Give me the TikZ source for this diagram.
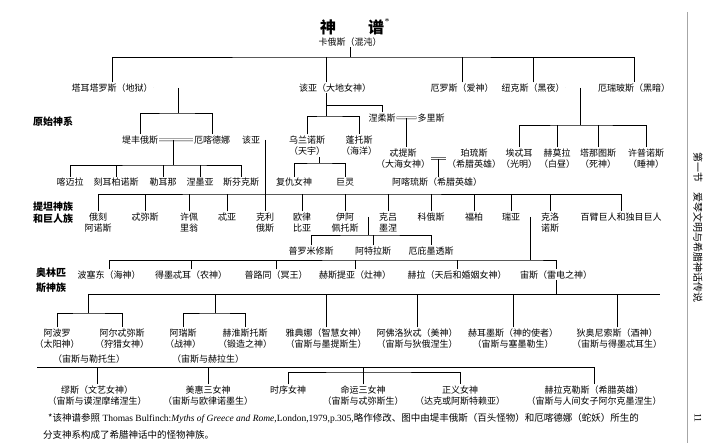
\documentclass[tikz,border=0pt]{standalone}
\usepackage{fontspec}
\setmainfont{Liberation Serif}
\newfontfamily\cjk{Noto Sans CJK SC}
\usepackage{tikz}
\usetikzlibrary{calc}

\tikzset{
    god/.style={anchor=north, inner sep=1pt, align=center, font=\cjk\fontsize{9}{11.5}\selectfont},
    tribe/.style={align=center, inner sep=0pt, font=\cjk\bfseries\fontsize{10}{12}\selectfont},
    wed/.style={double, double distance=1.5pt, line width=0.55pt},
    kin/.style={line width=0.75pt},
}

\begin{document}
\begin{tikzpicture}[x=1pt,y=-1pt]
    \useasboundingbox (0,0) rectangle (720,443);

    % title
    \node[inner sep=0pt, font=\cjk\bfseries\fontsize{16}{16}\selectfont] (title) at (352,27) {神\hspace{2em}谱};
    \node[inner sep=0pt, font=\fontsize{9}{9}\selectfont] (star) at (387,22) {*};

    % groups
    \node[tribe] (primal) at (53,122) {原始神系};
    \node[tribe] (titanlbl) at (53,213) {提坦神族\\和巨人族};
    \node[tribe] (olymplbl) at (51,280) {奥林匹\\[3pt]斯神族};

    % primal gods
    \node[god] (kaos) at (350,36.5) {卡俄斯（混沌）};
    \node[god] (tartarus) at (112,82.5) {塔耳塔罗斯（地狱）};
    \node[god] (gaia) at (335,82.5) {该亚（大地女神）};
    \node[god] (eros) at (462,82.5) {厄罗斯（爱神）};
    \node[god] (nyx) at (533,82.5) {纽克斯（黑夜）};
    \node[god] (erebus) at (634,82.5) {厄瑞玻斯（黑暗）};

    \node[god] (nereus) at (382,112.5) {涅柔斯};
    \node[god] (doris) at (431,112.5) {多里斯};

    \node[god] (typhon) at (140,134.5) {堤丰俄斯};
    \node[god] (echidna) at (212,134.5) {厄喀德娜};
    \node[god] (gaiaB) at (251,134.5) {该亚};
    \node[god] (ouranos) at (307,134.5) {乌兰诺斯\\（天宇）};
    \node[god] (pontus) at (359,134.5) {蓬托斯\\（海洋）};

    \node[god] (thetis) at (403,147.5) {忒提斯\\（大海女神）};
    \node[god] (peleus) at (474,147.5) {珀琉斯\\（希腊英雄）};
    \node[god] (aether) at (519,147.5) {埃忒耳\\（光明）};
    \node[god] (hemera) at (557,147.5) {赫莫拉\\（白昼）};
    \node[god] (thanatos) at (598,147.5) {塔那图斯\\（死神）};
    \node[god] (hypnos) at (646,147.5) {许普诺斯\\（睡神）};

    \node[god] (chimaera) at (70,177) {喀迈拉};
    \node[god] (cerberus) at (116,177) {刻耳柏诺斯};
    \node[god] (hydra) at (163,177) {勒耳那};
    \node[god] (nemea) at (200,177) {涅墨亚};
    \node[god] (sphinx) at (241,177) {斯芬克斯};
    \node[god] (erinyes) at (294,177) {复仇女神};
    \node[god] (giants) at (345,177) {巨灵};
    \node[god] (achilles) at (437,177) {阿喀琉斯（希腊英雄）};

    % titans
    \node[god] (oceanus) at (98,211.5) {俄刻\\阿诺斯};
    \node[god] (themis) at (145,211.5) {忒弥斯};
    \node[god] (hyperion) at (189,211.5) {许佩\\里翁};
    \node[god] (theia) at (227,211.5) {忒亚};
    \node[god] (crius) at (265,211.5) {克利\\俄斯};
    \node[god] (eurybia) at (302,211.5) {欧律\\比亚};
    \node[god] (iapetus) at (345,211.5) {伊阿\\佩托斯};
    \node[god] (clymene) at (388,211.5) {克吕\\墨涅};
    \node[god] (coeus) at (431,211.5) {科俄斯};
    \node[god] (phoebe) at (474,211.5) {福柏};
    \node[god] (rhea) at (511,211.5) {瑞亚};
    \node[god] (cronus) at (550,211.5) {克洛\\诺斯};
    \node[god] (hecaton) at (621,211.5) {百臂巨人和独目巨人};

    \node[god] (prometheus) at (311,245.5) {普罗米修斯};
    \node[god] (atlas) at (373,245.5) {阿特拉斯};
    \node[god] (epimetheus) at (431,245.5) {厄庇墨透斯};

    % olympians
    \node[god] (poseidon) at (109,269.5) {波塞东（海神）};
    \node[god] (demeter) at (191,269.5) {得墨忒耳（农神）};
    \node[god] (hades) at (276,269.5) {普路同（冥王）};
    \node[god] (hestia) at (355,269.5) {赫斯提亚（灶神）};
    \node[god] (hera) at (457,269.5) {赫拉（天后和婚姻女神）};
    \node[god] (zeus) at (556,269.5) {宙斯（雷电之神）};

    \node[god] (apollo) at (57,327.5) {阿波罗\\（太阳神）};
    \node[god] (artemis) at (122,327.5) {阿尔忒弥斯\\（狩猎女神）};
    \node[god] (ares) at (183,327.5) {阿瑞斯\\（战神）};
    \node[god] (hephaestus) at (245,327.5) {赫淮斯托斯\\（锻造之神）};
    \node[god] (athena) at (326,327.5) {雅典娜（智慧女神）\\（宙斯与墨提斯生）};
    \node[god] (aphrodite) at (417,327.5) {阿佛洛狄忒（美神）\\（宙斯与狄俄涅生）};
    \node[god] (hermes) at (513,327.5) {赫耳墨斯（神的使者）\\（宙斯与塞墨勒生）};
    \node[god] (dionysus) at (617,327.5) {狄奥尼索斯（酒神）\\（宙斯与得墨忒耳生）};
    \node[god] (letoborn) at (89,353.5) {（宙斯与勒托生）};
    \node[god] (heraborn) at (208,353.5) {（宙斯与赫拉生）};

    \node[god] (muses) at (97,384.5) {缪斯（文艺女神）\\（宙斯与谟涅摩绪涅生）};
    \node[god] (charites) at (208,384.5) {美惠三女神\\（宙斯与欧律诺墨生）};
    \node[god] (horae) at (288,384.5) {时序女神};
    \node[god] (moirai) at (363,384.5) {命运三女神\\（宙斯与忒弥斯生）};
    \node[god] (dike) at (460,384.5) {正义女神\\（达克或阿斯特赖亚）};
    \node[god] (hercules) at (594,384.5) {赫拉克勒斯（希腊英雄）\\（宙斯与人间女子阿尔克墨涅生）};

    % kaos
    \coordinate (k1) at (350,57);
    \draw[kin] (kaos.south) -- (k1);
    \draw[kin] (tartarus.north) |- (k1) -| (erebus.north);
    \foreach \n in {eros,nyx} \draw[kin] (\n.north) -- (\n.north |- k1);
    \draw[kin] ([xshift=-9pt]gaia.north) -- ([xshift=-9pt]gaia.north |- k1);

    % tartarus + gaia
    \draw[wed] (tartarus.east) -- (gaia.west);
    \coordinate (tg) at (tartarus.east -| 178,0);
    \coordinate (tgb) at (178,113);
    \draw[kin] (tg) -- (tgb);
    \draw[kin] (typhon.north) |- (tgb) -| (echidna.north);

    % typhon + echidna
    \draw[wed] (typhon.east) -- (echidna.west);
    \coordinate (te) at (typhon.east -| 173,0);
    \coordinate (teb) at (173,165);
    \draw[kin] (te) -- (teb);
    \draw[kin] (chimaera.north) |- (teb) -| (sphinx.north);
    \foreach \n in {cerberus,hydra,nemea} \draw[kin] (\n.north) -- (\n.north |- teb);

    % gaia alone
    \coordinate (g0) at ([xshift=-9pt]gaia.south);
    \coordinate (g1) at (g0 |- 0,105);
    \coordinate (g2) at (g0 |- 0,116);
    \draw[kin] (g0) -- (g2);
    \draw[kin] (ouranos.north) |- (g2) -| (pontus.north);
    \draw[kin] (g1) -| (nereus.north);

    % nereus + doris
    \draw[wed] (nereus.east) -- (doris.west);
    \coordinate (nd) at (nereus.east -| 406,0);
    \draw[kin] (nd) -- (nd |- thetis.north);

    % thetis + peleus
    \draw[wed] (thetis.east) -- (peleus.west);
    \coordinate (tp) at ($(thetis.east)!0.5!(peleus.west)$);
    \draw[kin] (tp) -- (tp |- achilles.north);

    % nyx + erebus
    \draw[wed] (nyx.east) -- (erebus.west);
    \coordinate (ne) at (nyx.east -| 580,0);
    \coordinate (neb) at (580,125);
    \draw[kin] (ne) -- (neb);
    \draw[kin] (aether.north) |- (neb) -| (hypnos.north);
    \foreach \n in {hemera,thanatos} \draw[kin] (\n.north) -- (\n.north |- neb);

    % ouranos
    \coordinate (om) at ($(erinyes.north)!0.5!(giants.north)$);
    \coordinate (ob) at (om |- 0,163);
    \draw[kin] (om |- ouranos.south) -- (ob);
    \draw[kin] (erinyes.north) |- (ob) -| (giants.north);

    % gaia + ouranos
    \coordinate (go1) at (gaiaB.east);
    \coordinate (go2) at (ouranos.west |- go1);
    \draw[wed] (go1) -- (go2);
    \coordinate (go) at (crius.north |- go1);
    \coordinate (tb) at (crius.north |- 0,194);
    \draw[kin] (go) -- (crius.north);
    \draw[kin] (oceanus.north) |- (tb) -| (hecaton.north);
    \foreach \n in {themis,hyperion,theia,eurybia,iapetus,clymene,coeus,phoebe,rhea,cronus}
        \draw[kin] (\n.north) -- (\n.north |- tb);

    % iapetus + clymene
    \coordinate (ia1) at ([yshift=-5.5pt]iapetus.north east);
    \coordinate (ia2) at ([yshift=-5.5pt]clymene.north west);
    \draw[wed] (ia1) -- (ia2);
    \coordinate (ic) at ($(ia1)!0.5!(ia2)$);
    \coordinate (icb) at (ic |- 0,235);
    \draw[kin] (ic) -- (icb);
    \draw[kin] (prometheus.north) |- (icb) -| (epimetheus.north);
    \draw[kin] (atlas.north) -- (atlas.north |- icb);

    % rhea + cronus
    \coordinate (rc1) at ([yshift=-5.5pt]cronus.north west);
    \draw[wed] (rhea.east) -- (rhea.east -| rc1);
    \coordinate (rc) at ($(rhea.east)!0.5!(rhea.east -| rc1)$);
    \coordinate (yb) at (rc |- 0,260);
    \draw[kin] (rc) -- (yb);
    \draw[kin] (poseidon.north) |- (yb) -| (zeus.north);
    \foreach \n in {demeter,hades,hestia,hera} \draw[kin] (\n.north) -- (\n.north |- yb);

    % zeus
    \coordinate (zl) at (88,294);
    \coordinate (zr) at (660,294);
    \draw[kin] (zeus.south) -- (zeus.south |- zl);
    \draw[kin] (zl) -- (zr);
    \coordinate (lb) at (88,313);
    \draw[kin] (zl) -- (lb);
    \draw[kin] (apollo.north) |- (lb) -| (artemis.north);
    \coordinate (hb) at (215,313);
    \draw[kin] (hb |- zl) -- (hb);
    \draw[kin] (ares.north) |- (hb) -| (hephaestus.north);
    \foreach \n in {athena,aphrodite,hermes,dionysus} \draw[kin] (\n.north) -- (\n.north |- zl);

    \coordinate (mb) at (37,367);
    \draw[kin] (mb) -| (hercules.north);
    \foreach \n in {muses,charites,moirai} \draw[kin] (\n.north) -- (\n.north |- mb);
    \coordinate (fb) at (moirai.north |- 0,372);
    \draw[kin] (horae.north) |- (fb) -| (dike.north);

    % footnote
    \node[anchor=west, inner sep=0pt, font=\fontsize{9.5}{11}\selectfont] (note1) at (48,418)
        {{\cjk *该神谱参照} Thomas Bulfinch:\textit{Myths of Greece and Rome},London,1979,p.305,{\cjk 略作修改、图中由堤丰俄斯（百头怪物）和厄喀德娜（蛇妖）所生的}};
    \node[anchor=west, inner sep=0pt, font=\cjk\fontsize{9.5}{11}\selectfont] (note2) at (43,435)
        {分支神系构成了希腊神话中的怪物神族。};

    % running head
    \draw[gray!70, line width=0.5pt] (687,12) -- (687,443);
    \node[rotate=-90, inner sep=0pt, font=\cjk\fontsize{10}{10}\selectfont] (head) at (698,228) {第一节\quad 爱琴文明与希腊神话传说};
    \node[rotate=-90, inner sep=0pt, font=\fontsize{10}{10}\selectfont] (page) at (698,418) {11};
\end{tikzpicture}
\end{document}
